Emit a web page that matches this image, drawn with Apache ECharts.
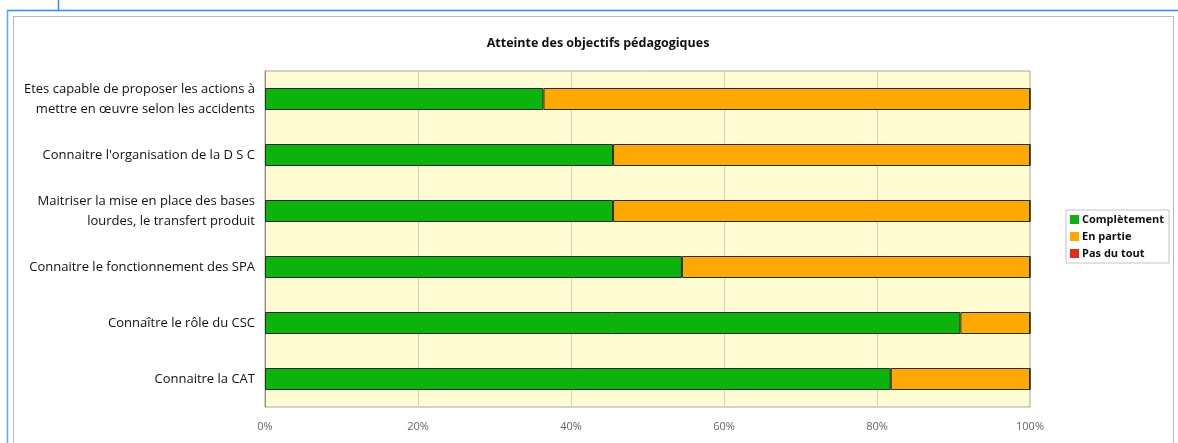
<!DOCTYPE html>
<html>
<head>
<meta charset="utf-8">
<script src="https://cdn.jsdelivr.net/npm/echarts@6/dist/echarts.min.js"></script>
<style>
html,body{margin:0;padding:0;background:#fff;}
#c{width:1178px;height:443px;}
</style>
</head>
<body>
<div id="c"></div>
<script>
const categories = [
  "Etes capable de proposer les actions à\nmettre en œuvre selon les accidents",
  "Connaitre l'organisation de la D S C",
  "Maitriser la mise en place des bases\nlourdes, le transfert produit",
  "Connaitre le fonctionnement des SPA",
  "Connaître le rôle du CSC",
  "Connaitre la CAT"
];
const completement = [36.4, 45.5, 45.5, 54.5, 90.9, 81.8];
const enPartie = [63.6, 54.5, 54.5, 45.5, 9.1, 18.2];
const pasDuTout = [0, 0, 0, 0, 0, 0];
const xTicks = [0, 20, 40, 60, 80, 100];

const chart = echarts.init(document.getElementById('c'));
const font = '"Open Sans", "Liberation Sans", sans-serif';
const bar = (name, data, color) => ({
  name, type: 'bar', stack: 'tot', data, barWidth: 22,
  itemStyle: {color, borderColor: '#2a2a2a', borderWidth: 1},
  emphasis: {disabled: true}
});
chart.setOption({
  animation: false,
  title: {
    text: 'Atteinte des objectifs pédagogiques',
    left: 593, top: 32, textAlign: 'center',
    textStyle: {fontFamily: font, fontSize: 12.5, fontWeight: 'bold', color: '#111'}
  },
  legend: {
    orient: 'vertical', left: 1066, top: 210,
    itemWidth: 9, itemHeight: 9, itemGap: 6,
    borderColor: '#c4c4c4', borderWidth: 1, padding: [4, 5, 4, 4],
    backgroundColor: '#fff',
    itemStyle: {borderWidth: 0},
    textStyle: {fontFamily: font, fontSize: 11, color: '#111', fontWeight: 'bold', padding: [0,0,0,-2]},
    icon: 'rect',
    data: ['Complètement', 'En partie', 'Pas du tout']
  },
  grid: {
    left: 265, right: 148, top: 71, bottom: 36,
    show: true, backgroundColor: '#fffbd2', borderColor: '#a8a8a0', borderWidth: 1
  },
  xAxis: {
    type: 'value', min: 0, max: 100, interval: 20,
    axisLabel: {formatter: v => xTicks.includes(v) ? v + '%' : '', color: '#666', fontFamily: font, fontSize: 11, margin: 14},
    splitLine: {lineStyle: {color: '#d4d2b8', width: 1}},
    axisLine: {show: false}, axisTick: {show: false}
  },
  yAxis: {
    type: 'category', data: categories, inverse: true,
    axisLabel: {color: '#111', fontFamily: font, fontSize: 13, margin: 10, lineHeight: 20, align: 'right'},
    axisLine: {show: true, lineStyle: {color: '#888'}}, axisTick: {show: false}
  },
  series: [
    bar('Complètement', completement, '#0cb30c'),
    bar('En partie', enPartie, '#ffa800'),
    bar('Pas du tout', pasDuTout, '#e8291b')
  ],
  graphic: [
    {type: 'line', shape: {x1: 7, y1: 10.5, x2: 1178, y2: 10.5}, style: {stroke: '#2a8ff0', lineWidth: 1.5}},
    {type: 'line', shape: {x1: 7.5, y1: 10, x2: 7.5, y2: 443}, style: {stroke: '#5aaaf0', lineWidth: 1.5}},
    {type: 'line', shape: {x1: 58.5, y1: 0, x2: 58.5, y2: 10}, style: {stroke: '#2a8ff0', lineWidth: 1.5}},
    {type: 'line', shape: {x1: 13, y1: 16.5, x2: 1173, y2: 16.5}, style: {stroke: '#bbb', lineWidth: 1}},
    {type: 'line', shape: {x1: 13.5, y1: 16, x2: 13.5, y2: 443}, style: {stroke: '#bbb', lineWidth: 1}},
    {type: 'line', shape: {x1: 1173.5, y1: 16, x2: 1173.5, y2: 443}, style: {stroke: '#bbb', lineWidth: 1}}
  ]
});
</script>
</body>
</html>
